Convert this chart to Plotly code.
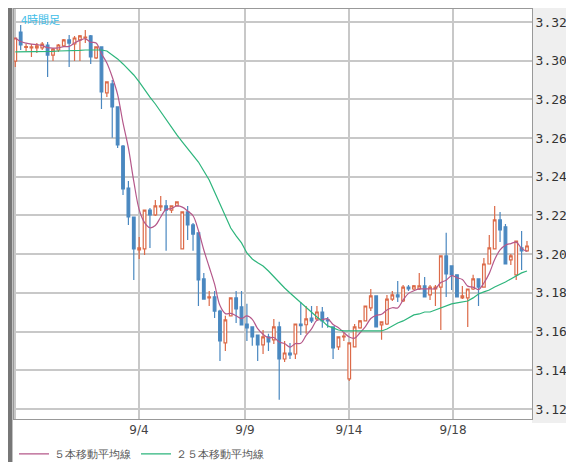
import plotly.graph_objects as go
import pandas as pd

opens = [3.2998,3.3148,3.3068,3.3066,3.3066,3.3066,3.3081,3.3029,3.3055,3.3076,
         3.3107,3.3086,3.3107,3.3117,3.3128,3.3014,3.3071,3.2833,3.2880,3.2761,
         3.2559,3.2342,3.2192,3.2022,3.2027,3.2228,3.2203,3.2244,3.2249,3.2228,
         3.2249,3.2027,3.2218,3.2151,3.2110,3.1872,3.1774,3.1779,3.1706,3.1541,
         3.1681,3.1774,3.1727,3.1639,3.1624,3.1582,3.1531,3.1572,3.1557,3.1624,
         3.1458,3.1489,3.1484,3.1639,3.1635,3.1670,3.1665,3.1701,3.1660,3.1624,
         3.1521,3.1572,3.1355,3.1521,3.1619,3.1655,3.1722,3.1784,3.1634,3.1639,
         3.1768,3.1789,3.1758,3.1830,3.1820,3.1820,3.1836,3.1789,3.1820,3.1830,
         3.1991,3.1939,3.1893,3.1774,3.1774,3.1820,3.1872,3.1830,3.1949,3.2027,
         3.2177,3.2141,3.1970,3.1893,3.2032,3.2017]
highs = [3.3117,3.3184,3.3086,3.3086,3.3091,3.3097,3.3097,3.3066,3.3086,3.3112,
         3.3133,3.3128,3.3133,3.3159,3.3133,3.3071,3.3071,3.2890,3.2900,3.2761,
         3.2564,3.2378,3.2192,3.2089,3.2228,3.2239,3.2280,3.2301,3.2280,3.2249,
         3.2270,3.2218,3.2249,3.2161,3.2110,3.1903,3.1810,3.1810,3.1712,3.1681,
         3.1774,3.1810,3.1810,3.1743,3.1624,3.1582,3.1608,3.1588,3.1665,3.1650,
         3.1551,3.1541,3.1639,3.1753,3.1732,3.1732,3.1732,3.1727,3.1675,3.1624,
         3.1572,3.1593,3.1541,3.1639,3.1660,3.1732,3.1820,3.1784,3.1650,3.1789,
         3.1810,3.1861,3.1841,3.1841,3.1841,3.1903,3.1882,3.1841,3.1841,3.1991,
         3.2110,3.1939,3.1893,3.1836,3.1820,3.1893,3.1872,3.1980,3.2099,3.2249,
         3.2218,3.2156,3.2001,3.2068,3.2120,3.2068]
lows = [3.2967,3.3055,3.3050,3.3019,3.3040,3.3055,3.2916,3.2998,3.3045,3.3071,
        3.2967,3.2998,3.2998,3.3091,3.2983,3.3009,3.2750,3.2812,3.2601,3.2549,
        3.2306,3.2151,3.1867,3.1975,3.1996,3.2032,3.2197,3.2223,3.2017,3.2213,
        3.2249,3.2027,3.2073,3.2017,3.1732,3.1768,3.1732,3.1670,3.1448,3.1500,
        3.1681,3.1644,3.1634,3.1551,3.1526,3.1448,3.1484,3.1500,3.1536,3.1247,
        3.1443,3.1458,3.1458,3.1582,3.1588,3.1644,3.1655,3.1619,3.1619,3.1458,
        3.1505,3.1551,3.1345,3.1521,3.1614,3.1655,3.1706,3.1624,3.1557,3.1634,
        3.1758,3.1753,3.1753,3.1810,3.1815,3.1815,3.1779,3.1763,3.1732,3.1608,
        3.1779,3.1815,3.1779,3.1768,3.1624,3.1815,3.1732,3.1830,3.1949,3.2027,
        3.2063,3.1949,3.1944,3.1867,3.1918,3.2012]
closes = [3.3117,3.3081,3.3073,3.3071,3.3076,3.3086,3.3029,3.3060,3.3081,3.3107,
          3.3091,3.3117,3.3128,3.3122,3.3019,3.3071,3.2838,3.2890,3.2761,3.2564,
          3.2337,3.2192,3.2027,3.2032,3.2228,3.2203,3.2249,3.2249,3.2228,3.2249,
          3.2270,3.2218,3.2151,3.2104,3.1867,3.1768,3.1779,3.1706,3.1551,3.1660,
          3.1774,3.1717,3.1634,3.1619,3.1572,3.1531,3.1572,3.1546,3.1624,3.1458,
          3.1489,3.1479,3.1639,3.1630,3.1665,3.1655,3.1701,3.1655,3.1655,3.1515,
          3.1572,3.1577,3.1541,3.1624,3.1655,3.1732,3.1784,3.1624,3.1650,3.1768,
          3.1789,3.1779,3.1830,3.1820,3.1836,3.1836,3.1779,3.1830,3.1830,3.1991,
          3.1898,3.1893,3.1779,3.1784,3.1820,3.1872,3.1830,3.1949,3.2032,3.2177,
          3.2125,3.1949,3.1991,3.2068,3.2017,3.2042]
ma25 = [3.3045,3.3045,3.3045,3.3045,3.3045,3.3045,3.3048,3.3048,3.3050,3.3050,
        3.3050,3.3053,3.3053,3.3055,3.3055,3.3055,3.3055,3.3050,
        3.3029,3.3009,3.2983,3.2957,3.2926,3.2890,3.2849,3.2812,3.2776,3.2735,
        3.2694,3.2652,3.2616,3.2580,3.2544,3.2513,3.2476,3.2430,3.2383,3.2321,
        3.2259,3.2197,3.2135,3.2094,3.2058,3.2006,3.1975,3.1955,3.1939,3.1913,
        3.1882,3.1856,3.1825,3.1799,3.1774,3.1748,3.1722,3.1701,3.1675,3.1655,
        3.1629,3.1619,3.1608,3.1603,3.1603,3.1603,3.1603,3.1603,3.1603,3.1603,
        3.1603,3.1613,3.1629,3.1644,3.1655,3.1670,3.1686,3.1691,3.1701,3.1701,
        3.1712,3.1722,3.1732,3.1743,3.1748,3.1753,3.1758,3.1774,3.1794,3.1805,
        3.1815,3.1830,3.1841,3.1856,3.1872,3.1887,3.1903,3.1913]
tick_pos = [22.97, 42.65, 61.96, 81.27]
tick_labels = ["9/4", "9/9", "9/14", "9/18"]
y_ticks = [3.12, 3.14, 3.16, 3.18, 3.20, 3.22, 3.24, 3.26, 3.28, 3.30, 3.32]

n = len(closes)
xs = list(range(n))
ma5 = pd.Series(closes).rolling(5, min_periods=1).mean().tolist()
ma25 = (ma25 + [ma25[-1]] * n)[:n]

UP = "#dc6a48"
DN = "#4a88c0"
fig = go.Figure()
fig.add_trace(go.Candlestick(
    x=xs, open=opens, high=highs, low=lows, close=closes,
    increasing=dict(line=dict(color=UP, width=1.2), fillcolor="white"),
    decreasing=dict(line=dict(color=DN, width=1.2), fillcolor=DN),
    whiskerwidth=0, showlegend=False, hoverinfo="skip"))
fig.add_trace(go.Scatter(x=xs, y=ma5, mode="lines", name="５本移動平均線",
                         line=dict(color="#b5588a", width=1.2, shape="spline")))
fig.add_trace(go.Scatter(x=xs, y=ma25, mode="lines", name="２５本移動平均線",
                         line=dict(color="#2db57c", width=1.2)))

fig.update_layout(
    width=574, height=462,
    margin=dict(l=6, r=50, t=1, b=51, autoexpand=False),
    paper_bgcolor="white", plot_bgcolor="white",
    font=dict(family="DejaVu Sans", color="#444"),
    showlegend=True,
    legend=dict(orientation="h", x=0.0, xanchor="left", y=-0.085, yanchor="middle",
                font=dict(size=11, color="#555"), itemwidth=30, tracegroupgap=0,
                bgcolor="rgba(0,0,0,0)"),
    xaxis=dict(range=[-0.24, 95.93], rangeslider=dict(visible=False),
               tickmode="array", tickvals=[0] + tick_pos, ticktext=[""] + tick_labels,
               showgrid=True, gridcolor="#c8c8c8", gridwidth=1.5, zeroline=False,
               showline=True, linecolor="#999", mirror=True,
               tickfont=dict(size=12, color="#444"), ticks=""),
    yaxis=dict(range=[3.1148, 3.3267], side="right", tickmode="array",
               tickvals=y_ticks, ticktext=[f"{v:.2f}" for v in y_ticks],
               showgrid=True, gridcolor="#c8c8c8", gridwidth=1.5, zeroline=False,
               showline=True, linecolor="#999", mirror=True,
               tickfont=dict(family="DejaVu Sans Mono", size=13, color="#333"), ticks=""),
    shapes=[dict(type="rect", xref="paper", yref="paper", x0=1, x1=1.2, y0=-0.01, y1=1.01,
                 fillcolor="#efefef", line=dict(width=0), layer="below"),
            dict(type="rect", xref="paper", yref="paper", x0=-0.02, x1=-0.003, y0=-0.2, y1=1.01,
                 fillcolor="#777", line=dict(width=0))],
    annotations=[dict(text="4時間足", xref="paper", yref="paper", x=0.01, y=1.0,
                      xanchor="left", yanchor="top", showarrow=False,
                      font=dict(size=11, color="#3dbde8",
                                family="Noto Sans CJK JP"))],
)
fig.write_html("out.html")
